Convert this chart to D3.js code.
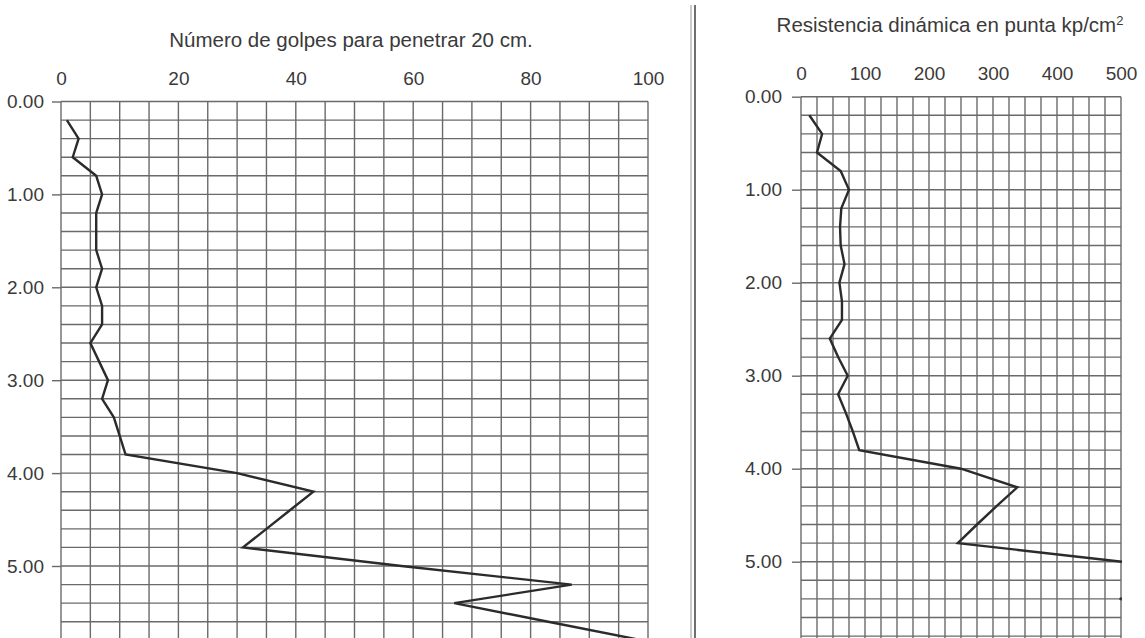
<!DOCTYPE html>
<html>
<head>
<meta charset="utf-8">
<script src="https://cdn.jsdelivr.net/npm/d3@7"></script>
<style>
  html, body { margin: 0; padding: 0; background: #fff; }
  svg { display: block; }
  text { font-family: 'Liberation Sans', Arial, sans-serif; fill: #3a3a3a; }
</style>
</head>
<body>
<svg id="chart"></svg>
<script>
// depth of each reading (m)
var depths = [0.2, 0.4, 0.6, 0.8, 1.0, 1.2, 1.4, 1.6, 1.8, 2.0, 2.2, 2.4, 2.6, 2.8, 3.0,
  3.2, 3.4, 3.6, 3.8, 4.0, 4.2, 4.4, 4.6, 4.8, 5.0, 5.2, 5.4, 5.6, 5.8]

// blows to penetrate 20 cm
var blows = [1, 3, 2, 6, 7, 6, 6, 6, 7, 6, 7, 7, 5, 6.5, 8,
  7, 9, 10, 11, 30, 43, 39, 35, 31, 58, 87, 67, 83, 99]

// dynamic point resistance kp/cm2
var resistance = [13, 33, 25, 62, 75, 63, 61, 62, 68, 60, 64, 64, 45, 58, 73,
  58, 70, 81, 91, 250, 338, 306, 275, 245, 502, 690, 498, 640, 760]

var blowTicks = [0, 20, 40, 60, 80, 100]
var resistTicks = [0, 100, 200, 300, 400, 500]
var depthTicks = [0, 1, 2, 3, 4, 5]

var width = 1145
var height = 638

var svg = d3.select('#chart')
  .attr('width', width)
  .attr('height', height)

var gridColor = '#6a6a6a'

var drawPanel = function (cfg) {
  var x = d3.scaleLinear().domain([0, cfg.max]).range([cfg.left, cfg.right])
  var y = d3.scaleLinear().domain([0, 6]).range([cfg.top, cfg.top + 6 * cfg.perM])

  var g = svg.append('g')

  // grid
  var grid = g.append('g')
    .attr('stroke', gridColor)
    .attr('stroke-width', 1.4)

  grid.selectAll('line.v')
    .data(d3.range(0, cfg.max + 0.001, cfg.step))
    .join('line')
    .attr('class', 'v')
    .attr('x1', (d) => x(d))
    .attr('x2', (d) => x(d))
    .attr('y1', y(0))
    .attr('y2', y(6))

  grid.selectAll('line.h')
    .data(d3.range(0, 6.001, 0.2))
    .join('line')
    .attr('class', 'h')
    .attr('x1', x(0))
    .attr('x2', x(cfg.max))
    .attr('y1', (d) => y(d))
    .attr('y2', (d) => y(d))

  // top axis labels
  var xAxis = g.append('g')
    .attr('transform', 'translate(0,' + cfg.labelY + ')')
    .call(d3.axisTop(x).tickValues(cfg.ticks).tickSize(0).tickPadding(0))
  xAxis.select('.domain').remove()
  xAxis.selectAll('text')
    .attr('font-size', 19)
    .attr('fill', '#3a3a3a')

  // depth axis
  var yAxis = g.append('g')
    .attr('transform', 'translate(' + x(0) + ',0)')
    .call(d3.axisLeft(y).tickValues(depthTicks).tickSize(9).tickPadding(cfg.pad)
      .tickFormat(d3.format('.2f')))
  yAxis.select('.domain').remove()
  yAxis.selectAll('line')
    .attr('stroke', gridColor)
    .attr('stroke-width', 1.4)
  yAxis.selectAll('text')
    .attr('font-size', 19)
    .attr('fill', '#3a3a3a')

  // title
  g.append('text')
    .attr('x', cfg.titleX)
    .attr('y', cfg.titleY)
    .attr('text-anchor', 'middle')
    .attr('font-size', 20.5)
    .text(cfg.title)
    .append('tspan')
    .attr('font-size', 13)
    .attr('dy', -7)
    .text(cfg.sup || '')

  // clip for the curve
  g.append('clipPath')
    .attr('id', cfg.id)
    .append('rect')
    .attr('x', x(0))
    .attr('y', y(0))
    .attr('width', x(cfg.max) - x(0) + 1)
    .attr('height', y(6) - y(0))

  var line = d3.line()
    .x((d, i) => x(cfg.values[i]))
    .y((d) => y(d))

  g.append('path')
    .datum(depths)
    .attr('clip-path', 'url(#' + cfg.id + ')')
    .attr('fill', 'none')
    .attr('stroke', '#2b2b2b')
    .attr('stroke-width', 2.4)
    .attr('stroke-linejoin', 'miter')
    .attr('d', line)
}

drawPanel({
  id: 'clipLeft',
  max: 100,
  step: 5,
  left: 61,
  right: 648,
  top: 101.5,
  perM: 92.9,
  ticks: blowTicks,
  values: blows,
  labelY: 85,
  pad: 8,
  title: 'Número de golpes para penetrar 20 cm.',
  titleX: 351,
  titleY: 47
})

drawPanel({
  id: 'clipRight',
  max: 500,
  step: 25,
  left: 801,
  right: 1121,
  top: 96.7,
  perM: 93,
  ticks: resistTicks,
  values: resistance,
  labelY: 80,
  pad: 10,
  title: 'Resistencia dinámica en punta kp/cm',
  sup: '2',
  titleX: 950,
  titleY: 32
})

// double separator line between the two panels
svg.append('line')
  .attr('x1', 691).attr('x2', 691)
  .attr('y1', 5).attr('y2', height)
  .attr('stroke', '#bdbdbd')
  .attr('stroke-width', 1.6)
svg.append('line')
  .attr('x1', 695).attr('x2', 695)
  .attr('y1', 5).attr('y2', height)
  .attr('stroke', '#707070')
  .attr('stroke-width', 2)
</script>
</body>
</html>
